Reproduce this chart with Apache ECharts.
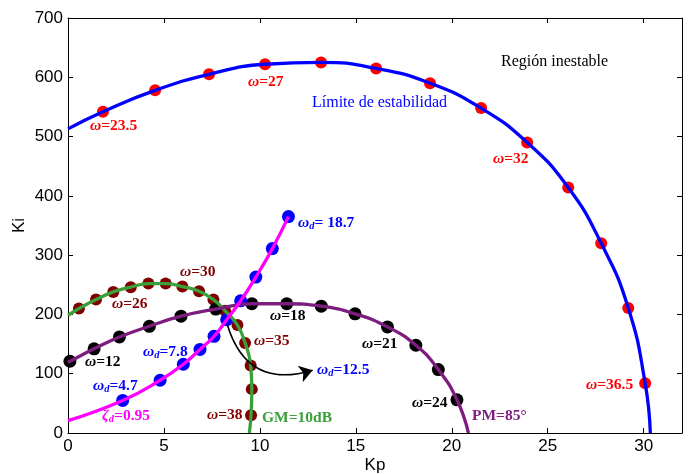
<!DOCTYPE html>
<html>
<head>
<meta charset="utf-8">
<script src="https://cdn.jsdelivr.net/npm/echarts@6/dist/echarts.min.js"></script>
<style>
  html, body { margin: 0; padding: 0; background: #fff; }
  #chart { width: 693px; height: 474px; }
</style>
</head>
<body>
<div id="chart"></div>
<script>
// Stability boundary (Límite de estabilidad): marked frequencies and the curve ends
const stabDotKp = [1.82, 4.54, 7.35, 10.27, 13.19, 16.06, 18.87, 21.53, 23.93, 26.07, 27.79, 29.2, 30.08];
const stabDotKi = [542, 578, 605, 622, 625, 615, 590, 548, 490, 414, 320, 211, 84];
const stabEnds = [[0, 513], [30.35, 0]];

// Phase margin PM=85°
const pmDotKp = [0.1, 1.36, 2.68, 4.24, 5.89, 7.7, 9.58, 11.4, 13.2, 14.96, 16.65, 18.13, 19.3, 20.27];
const pmDotKi = [121, 142, 162, 180, 197, 209, 218, 218, 214, 201, 179, 148, 107, 56];
const pmEnds = [[0, 119], [20.87, 0]];

// Gain margin GM=10dB
const gmDotKp = [0.57, 1.46, 2.36, 3.27, 4.19, 5.09, 5.96, 6.83, 7.58, 8.19, 8.83, 9.23, 9.52, 9.58, 9.54];
const gmDotKi = [210, 225, 238, 246, 252, 252, 247, 239, 225, 206, 182, 152, 114, 74, 30];
const gmEnds = [[0, 198.5], [9.45, 0]];

// Damping ratio ζd=0.95
const zdDotKp = [2.85, 4.8, 6.01, 6.88, 7.61, 8.27, 9.0, 9.79, 10.65, 11.49];
const zdDotKi = [55, 89, 116, 141, 163, 191, 223, 263, 311, 365];
const zdStart = [0, 21];

// Arrow from the ωd=12.5 point towards its annotation
const arrowFrom = [8.3, 183];
const arrowTo = [12.75, 106];

// Axis ticks
const kpTicks = [0, 5, 10, 15, 20, 25, 30];
const kiTicks = [0, 100, 200, 300, 400, 500, 600, 700];

const zip = (xs, ys) => xs.map((x, i) => [x, ys[i]]);
const curve = (start, xs, ys, end) => [start, ...zip(xs, ys), ...(end ? [end] : [])];

const chart = echarts.init(document.getElementById('chart'));

const SERIF = "'Liberation Serif', 'Times New Roman', serif";
const richBase = {
  w: { fontFamily: SERIF, fontStyle: 'italic', fontWeight: 'bold', fontSize: 15.5, lineHeight: 18 },
  d: { fontFamily: SERIF, fontStyle: 'italic', fontWeight: 'bold', fontSize: 10.5, lineHeight: 18, verticalAlign: 'bottom', padding: [5, 0, 0, 0] },
  n: { fontFamily: SERIF, fontWeight: 'bold', fontSize: 15.5, lineHeight: 18 }
};
function richColored(color) {
  const r = {};
  for (const k in richBase) r[k] = Object.assign({}, richBase[k], { color: color });
  return r;
}
function label(x, y, text, color) {
  return {
    type: 'text', x: x, y: y, z: 100, silent: true,
    style: { text: text, rich: richColored(color), fill: color, verticalAlign: 'middle', align: 'left' }
  };
}
function plain(x, y, text, color) {
  return {
    type: 'text', x: x, y: y, z: 100, silent: true,
    style: { text: text, fill: color, font: "16px " + SERIF, verticalAlign: 'middle', align: 'left' }
  };
}

const RED = '#ff0000', BLUE = '#0000ff', MAROON = '#800000', BLACK = '#000000';
const PURPLE = '#7d1d7d', GREEN = '#3aa13a', MAGENTA = '#ff00ff';

function lineSeries(data, color) {
  return {
    type: 'line', data: data, smooth: 0.5, symbol: 'none', silent: true,
    lineStyle: { color: color, width: 3.3 }
  };
}
function dotSeries(data, color, size) {
  return {
    type: 'scatter', data: data, symbol: 'circle', symbolSize: size, silent: true,
    itemStyle: { color: color, opacity: 1 }
  };
}

const axisCommon = {
  axisLine: { show: true, onZero: false, lineStyle: { color: '#000', width: 1 } },
  axisTick: { show: true, inside: true, length: 5, lineStyle: { color: '#000' } },
  splitLine: { show: false }
};

const option = {
  animation: false,
  backgroundColor: '#ffffff',
  grid: { left: 68, top: 18, right: 11, bottom: 41, containLabel: false, outerBoundsMode: 'none' },
  xAxis: [
    Object.assign({
      type: 'value', min: 0, max: 32, interval: 5,
      name: 'Kp', nameLocation: 'middle', nameGap: 24, nameMoveOverlap: false,
      nameTextStyle: { fontFamily: 'Liberation Sans', fontSize: 17, color: '#000' },
      axisLabel: {
        margin: 5, fontFamily: 'Liberation Sans', fontSize: 17, color: '#000',
        formatter: v => (kpTicks.indexOf(v) >= 0 ? String(v) : '')
      }
    }, axisCommon),
    Object.assign({
      type: 'value', min: 0, max: 32, interval: 5, position: 'top',
      axisLabel: { show: false }
    }, axisCommon)
  ],
  yAxis: [
    Object.assign({
      type: 'value', min: 0, max: 700, interval: 100,
      name: 'Ki', nameLocation: 'middle', nameGap: 40, nameRotate: 90, nameMoveOverlap: false,
      nameTextStyle: { fontFamily: 'Liberation Sans', fontSize: 17, color: '#000' },
      axisLabel: {
        margin: 5, fontFamily: 'Liberation Sans', fontSize: 17, color: '#000',
        formatter: v => (kiTicks.indexOf(v) >= 0 ? String(v) : '')
      }
    }, axisCommon),
    Object.assign({
      type: 'value', min: 0, max: 700, interval: 100, position: 'right',
      axisLabel: { show: false }
    }, axisCommon)
  ],
  series: [
    // stability boundary
    lineSeries(curve(stabEnds[0], stabDotKp, stabDotKi, stabEnds[1]), BLUE),
    dotSeries(zip(stabDotKp, stabDotKi), RED, 12),
    dotSeries(zip(stabDotKp, stabDotKi), BLUE, 2),
    // gain margin
    lineSeries(curve(gmEnds[0], gmDotKp, gmDotKi, gmEnds[1]), GREEN),
    dotSeries(zip(gmDotKp, gmDotKi), MAROON, 12),
    dotSeries(zip(gmDotKp, gmDotKi), '#c21010', 2),
    // phase margin
    lineSeries(curve(pmEnds[0], pmDotKp, pmDotKi, pmEnds[1]), PURPLE),
    dotSeries(zip(pmDotKp, pmDotKi), BLACK, 13),
    // damping ratio
    lineSeries(curve(zdStart, zdDotKp, zdDotKi, null), MAGENTA),
    dotSeries(zip(zdDotKp, zdDotKi), BLUE, 13),
    // curved arrow
    {
      type: 'lines', coordinateSystem: 'cartesian2d', silent: true, z: 5,
      symbol: ['none', 'arrow'], symbolSize: 13,
      lineStyle: { color: '#000', width: 1.6, opacity: 1, curveness: -0.5 },
      data: [{ coords: [arrowFrom, arrowTo] }]
    }
  ],
  graphic: [
    label(90, 126, '{w|ω}{n|=23.5}', RED),
    label(248, 82, '{w|ω}{n|=27}', RED),
    label(493, 159, '{w|ω}{n|=32}', RED),
    label(586, 385, '{w|ω}{n|=36.5}', RED),
    plain(312, 103, 'Límite de estabilidad', BLUE),
    plain(501, 62, 'Región inestable', '#000'),
    label(298, 223, '{w|ω}{d|d}{n|= 18.7}', BLUE),
    label(180, 272, '{w|ω}{n|=30}', MAROON),
    label(112, 304, '{w|ω}{n|=26}', MAROON),
    label(270, 316, '{w|ω}{n|=18}', BLACK),
    label(254, 341, '{w|ω}{n|=35}', MAROON),
    label(317, 370, '{w|ω}{d|d}{n|=12.5}', BLUE),
    label(207, 415, '{w|ω}{n|=38}', MAROON),
    label(262, 418, '{n|GM=10dB}', GREEN),
    label(85, 362, '{w|ω}{n|=12}', BLACK),
    label(143, 352, '{w|ω}{d|d}{n|=7.8}', BLUE),
    label(93, 386, '{w|ω}{d|d}{n|=4.7}', BLUE),
    label(102, 416, '{w|ζ}{d|d}{n|=0.95}', MAGENTA),
    label(362, 344, '{w|ω}{n|=21}', BLACK),
    label(412, 403, '{w|ω}{n|=24}', BLACK),
    label(472, 416, '{n|PM=85°}', PURPLE)
  ]
};

chart.setOption(option);
</script>
</body>
</html>
